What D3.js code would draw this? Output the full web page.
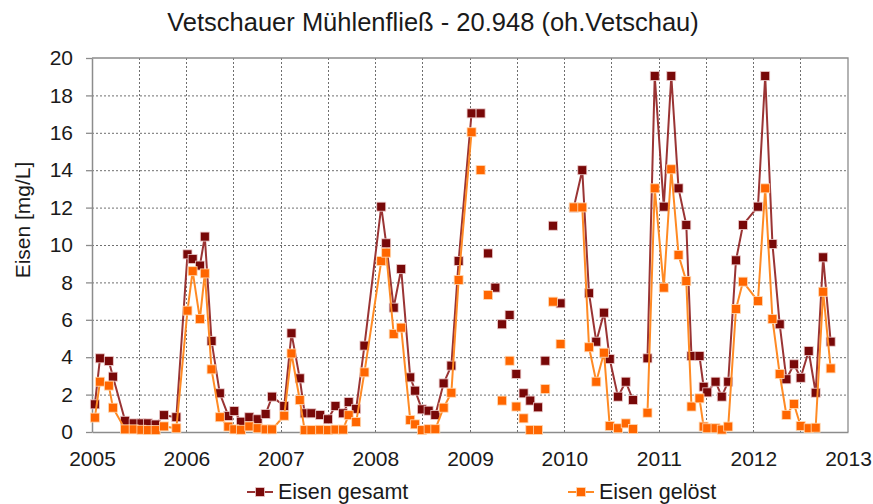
<!DOCTYPE html>
<html>
<head>
<meta charset="utf-8">
<script src="https://cdn.jsdelivr.net/npm/d3@7"></script>
<style>
  body { margin: 0; background: #fff; }
  text { font-family: "Liberation Sans", Arial, sans-serif; fill: #1a1a1a; }
</style>
</head>
<body>
<svg id="chart" width="873" height="504"></svg>
<script>
// sampling dates (Vetschauer Mühlenfließ, 20.948)
var dates = [
  "2005-01-12", "2005-02-01", "2005-03-07", "2005-03-23", "2005-05-09", "2005-06-11",
  "2005-07-11", "2005-08-05", "2005-09-04", "2005-10-06", "2005-11-23",
  "2006-01-05", "2006-01-25", "2006-02-22", "2006-03-13", "2006-04-08", "2006-05-10",
  "2006-06-12", "2006-07-05", "2006-07-31", "2006-09-01", "2006-10-03", "2006-11-03", "2006-11-28",
  "2007-01-14", "2007-02-11", "2007-03-15", "2007-04-03", "2007-04-29", "2007-06-02",
  "2007-07-02", "2007-07-31", "2007-08-29", "2007-09-20", "2007-10-19", "2007-11-20",
  "2008-01-24", "2008-02-12", "2008-03-12", "2008-04-10", "2008-05-15", "2008-06-03",
  "2008-06-29", "2008-07-25", "2008-08-20", "2008-09-21", "2008-10-21", "2008-11-18",
  "2009-01-07", "2009-02-11", "2009-03-12", "2009-04-09", "2009-05-05", "2009-06-03",
  "2009-06-29", "2009-07-27", "2009-08-22", "2009-09-21", "2009-10-19", "2009-11-18", "2009-12-17",
  "2010-02-06", "2010-03-11", "2010-04-06", "2010-05-04", "2010-06-03", "2010-06-25",
  "2010-07-27", "2010-08-26", "2010-09-23", "2010-11-18", "2010-12-16",
  "2011-01-20", "2011-02-18", "2011-03-18", "2011-04-17", "2011-05-07", "2011-06-07",
  "2011-06-23", "2011-07-07", "2011-08-08", "2011-09-01", "2011-09-26", "2011-10-26", "2011-11-22",
  "2012-01-19", "2012-02-16", "2012-03-15", "2012-04-12", "2012-05-08", "2012-06-06",
  "2012-07-02", "2012-08-02", "2012-08-29", "2012-09-27", "2012-10-26"
];

var gesamt = [
  1.48, 3.94, 3.8, 2.96, 0.6, 0.46, 0.46, 0.46, 0.4, 0.9, 0.79,
  9.5, 9.25, 8.9, 10.45, 4.87, 2.07, 0.86, 1.12, 0.55, 0.79, 0.68, 0.96, 1.89,
  1.39, 5.28, 2.87, 1.0, 1.0, 0.91, 0.68, 1.39, 1.0, 1.6, 1.24, 4.62,
  12.05, 10.09, 6.65, 8.72, 2.92, 2.21, 1.21, 1.14, 0.91, 2.6, 3.55, 9.15,
  17.04, 17.04, 9.55, 7.72, 5.76, 6.26, 3.1, 2.07, 1.68, 1.32, 3.81, 11.03, 6.88,
  12.0, 14.0, 7.42, 4.83, 6.38, 3.9, 1.89, 2.69, 1.71, 3.94, 19.04,
  12.05, 19.04, 13.03, 11.07, 4.06, 4.06, 2.42, 2.12, 2.69, 1.89, 2.69, 9.18, 11.07,
  12.05, 19.04, 10.05, 5.76, 2.82, 3.62, 2.9, 4.33, 2.1, 9.34, 4.83
];

var geloest = [
  0.77, 2.69, 2.48, 1.3, 0.14, 0.14, 0.12, 0.1, 0.1, 0.3, 0.2,
  6.49, 8.6, 6.04, 8.48, 3.35, 0.79, 0.29, 0.14, 0.12, 0.3, 0.2, 0.14, 0.14,
  0.87, 4.2, 1.71, 0.1, 0.1, 0.12, 0.1, 0.13, 0.13, 0.9, 0.53, 3.19,
  9.14, 9.59, 5.24, 5.58, 0.64, 0.41, 0.1, 0.15, 0.15, 1.3, 2.1, 8.13,
  16.03, 14.01, 7.33, null, 1.68, 3.81, 1.36, 0.73, 0.11, 0.11, 2.3, 6.97, 4.7,
  12.01, 12.01, 4.53, 2.69, 4.24, 0.32, 0.2, 0.46, 0.16, 1.03, 13.03,
  7.72, 14.05, 9.47, 8.07, 1.36, 1.8, 0.29, 0.2, 0.2, 0.13, 0.29, 6.58, 8.04,
  7.0, 13.03, 6.04, 3.1, 0.91, 1.5, 0.32, 0.2, 0.23, 7.5, 3.4
];

// dates where the drawn line is interrupted (a new segment starts)
var lineBreaks = [
  "2009-02-11", "2009-03-12", "2009-04-09", "2009-05-05", "2009-06-03", "2009-06-29",
  "2009-07-27", "2009-08-22", "2009-09-21", "2009-10-19", "2009-11-18", "2009-12-17",
  "2010-02-06", "2010-11-18"
];

var yTicks = [0, 2, 4, 6, 8, 10, 12, 14, 16, 18, 20];

var series = [
  { name: "Eisen gesamt", values: gesamt, line: "#9a3434", fill: "#780808", edge: "#eccccc" },
  { name: "Eisen gelöst", values: geloest, line: "#ff8a24", fill: "#ff6600", edge: "#ffdab5" }
];

var svg = d3.select("#chart");
var parse = d3.timeParse("%Y-%m-%d");
var plotLeft = 92, plotRight = 848, plotTop = 58, plotBottom = 432;
var markerSize = 9;

var x = d3.scaleTime()
    .domain([new Date(2005, 0, 1), new Date(2013, 0, 1)])
    .range([plotLeft, plotRight]);

var y = d3.scaleLinear().domain([0, 20]).range([plotBottom, plotTop]);

// grid
svg.append("g").selectAll("line")
    .data(yTicks.filter(function(d){ return d > 0 && d < 20; }))
  .enter().append("line")
    .attr("x1", plotLeft).attr("x2", plotRight)
    .attr("y1", function(d){ return y(d) + 0.5; }).attr("y2", function(d){ return y(d) + 0.5; })
    .attr("stroke", "#6f6f6f").attr("stroke-width", 1).attr("stroke-dasharray", "2,2");

svg.append("g").selectAll("line")
    .data(x.ticks(d3.timeMonth.every(6)).filter(function(d){ return x(d) > plotLeft + 1 && x(d) < plotRight - 1; }))
  .enter().append("line")
    .attr("y1", plotTop).attr("y2", plotBottom)
    .attr("x1", function(d){ return Math.round(x(d)) + 0.5; }).attr("x2", function(d){ return Math.round(x(d)) + 0.5; })
    .attr("stroke", "#6f6f6f").attr("stroke-width", 1).attr("stroke-dasharray", "2,2");

// frame top and right
svg.append("path")
    .attr("d", "M" + plotLeft + "," + plotTop + "H" + plotRight + "V" + plotBottom)
    .attr("fill", "none").attr("stroke", "#8c8c8c").attr("stroke-width", 1.3);

// axes
var yAxis = svg.append("g")
    .attr("transform", "translate(" + plotLeft + ",0)")
    .call(d3.axisLeft(y).tickValues(yTicks).tickSize(6).tickPadding(13).tickSizeOuter(0));

var xAxis = svg.append("g")
    .attr("transform", "translate(0," + plotBottom + ")")
    .call(d3.axisBottom(x).ticks(d3.timeYear.every(1)).tickFormat(d3.timeFormat("%Y"))
        .tickSize(0).tickPadding(19));

[yAxis, xAxis].forEach(function(a){
    a.select(".domain").attr("stroke", "#8c8c8c").attr("stroke-width", 1.5);
    a.selectAll(".tick line").attr("stroke", "#8c8c8c").attr("stroke-width", 1.3);
    a.selectAll("text").attr("font-size", 21).attr("font-family", "Liberation Sans, Arial, sans-serif").attr("fill", "#1a1a1a");
});

// series
var line = d3.line()
    .x(function(d){ return x(d.date); })
    .y(function(d){ return y(d.value); });

series.forEach(function(s){
    var pts = dates.map(function(d, i){
        return { date: parse(d), key: d, value: s.values[i] };
    }).filter(function(p){ return p.value != null; });

    var segments = [];
    pts.forEach(function(p){
        if (!segments.length || lineBreaks.indexOf(p.key) >= 0) segments.push([]);
        segments[segments.length - 1].push(p);
    });

    svg.append("g").selectAll("path")
        .data(segments.filter(function(seg){ return seg.length > 1; }))
      .enter().append("path")
        .attr("d", line)
        .attr("fill", "none")
        .attr("stroke", s.line)
        .attr("stroke-width", 2)
        .attr("stroke-linejoin", "round");

    svg.append("g").selectAll("rect")
        .data(pts)
      .enter().append("rect")
        .attr("x", function(d){ return x(d.date) - markerSize / 2; })
        .attr("y", function(d){ return y(d.value) - markerSize / 2; })
        .attr("width", markerSize).attr("height", markerSize)
        .attr("fill", s.fill)
        .attr("stroke", s.edge)
        .attr("stroke-width", 0.8);
});

// title
svg.append("text")
    .attr("x", 433).attr("y", 31)
    .attr("text-anchor", "middle")
    .attr("font-size", 25.5)
    .text("Vetschauer Mühlenfließ - 20.948 (oh.Vetschau)");

// y label
svg.append("text")
    .attr("transform", "translate(30,220) rotate(-90)")
    .attr("text-anchor", "middle")
    .attr("font-size", 21)
    .text("Eisen [mg/L]");

// legend
var legendX = [247, 568];
series.forEach(function(s, i){
    var g = svg.append("g").attr("transform", "translate(" + legendX[i] + ",492)");
    g.append("line").attr("x1", 0).attr("x2", 26).attr("y1", 0).attr("y2", 0)
        .attr("stroke", s.line).attr("stroke-width", 2);
    g.append("rect").attr("x", 13 - markerSize / 2).attr("y", -markerSize / 2)
        .attr("width", markerSize).attr("height", markerSize)
        .attr("fill", s.fill).attr("stroke", s.edge).attr("stroke-width", 0.8);
    g.append("text").attr("x", 31).attr("y", 7).attr("font-size", 21.5).text(s.name);
});
</script>
</body>
</html>
